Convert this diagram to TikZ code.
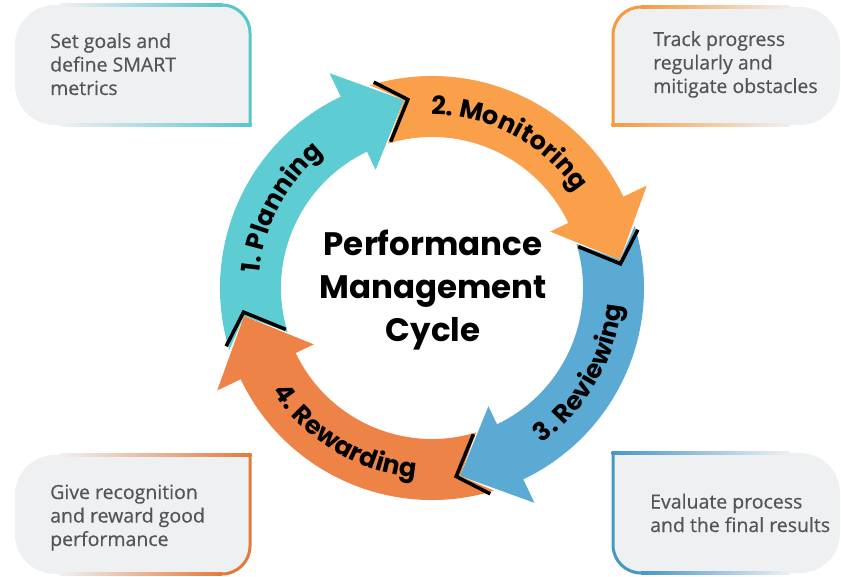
\documentclass[tikz,border=0pt]{standalone}
\usepackage{fontspec}
\setmainfont{Open Sans}
\newfontfamily\boxfont{Open Sans}[FakeBold=0.5]
\newfontfamily\popfont{Poppins}
\usetikzlibrary{decorations.text}
\definecolor{cPlan}{RGB}{94,204,211}
\definecolor{cMon}{RGB}{250,160,75}
\definecolor{cRev}{RGB}{91,170,212}
\definecolor{cRew}{RGB}{238,131,72}
\definecolor{boxgray}{RGB}{239,240,242}
\definecolor{txtgray}{RGB}{85,85,88}
\definecolor{bPlan}{RGB}{88,196,204}
\definecolor{bMon}{RGB}{244,155,62}
\definecolor{bRew}{RGB}{228,122,58}
\definecolor{bRev}{RGB}{70,150,198}
\newcommand\arclabfont{\popfont\bfseries\fontsize{25.5}{25.5}\selectfont}
\begin{document}
\begin{tikzpicture}[x=1pt,y=1pt,
  boxtext/.style={anchor=base west, align=left, inner sep=0pt, text=txtgray,
    font=\boxfont\fontsize{19.5}{23.5}\selectfont},
  arclab/.style={decorate, decoration={text along path, text align=center, text color=black, text={|\arclabfont|#1}}}]
\useasboundingbox (0,0) rectangle (841,576);
\fill[white] (0,0) rectangle (841,576);

% ---- boxes ----
% box 1 (top left)
\fill[boxgray] (250,451) -- (55,451) arc[start angle=270,end angle=180,radius=40] -- (15,531) arc[start angle=180,end angle=90,radius=40] -- (222,571) arc[start angle=90,end angle=0,radius=28] -- cycle;
\shade[left color=boxgray, right color=bPlan] (60,569.5) rectangle (222,572.5);
\shade[left color=boxgray, right color=bPlan] (60,449.5) rectangle (251.5,452.5);
\draw[bPlan, line width=3pt] (250,451) -- (250,543) arc[start angle=0,end angle=90,radius=28];
% box 2 (top right)
\fill[boxgray] (613,451) -- (613,541) arc[start angle=180,end angle=90,radius=28] -- (800,569) arc[start angle=90,end angle=0,radius=40] -- (840,491) arc[start angle=0,end angle=-90,radius=40] -- cycle;
\shade[left color=bMon, right color=boxgray] (641,567.5) rectangle (790,570.5);
\shade[left color=bMon, right color=boxgray] (611.5,449.5) rectangle (790,452.5);
\draw[bMon, line width=3pt] (613,451) -- (613,541) arc[start angle=180,end angle=90,radius=28];
% box 3 (bottom left)
\fill[boxgray] (250,121) -- (55,121) arc[start angle=90,end angle=180,radius=40] -- (15,42) arc[start angle=180,end angle=270,radius=40] -- (222,2) arc[start angle=270,end angle=360,radius=28] -- cycle;
\shade[left color=boxgray, right color=bRew] (60,119.5) rectangle (251.5,122.5);
\shade[left color=boxgray, right color=bRew] (60,0.5) rectangle (222,3.5);
\draw[bRew, line width=3pt] (250,121) -- (250,30) arc[start angle=0,end angle=-90,radius=28];
% box 4 (bottom right)
\fill[boxgray] (613,123) -- (800,123) arc[start angle=90,end angle=0,radius=40] -- (840,43) arc[start angle=0,end angle=-90,radius=40] -- (641,3) arc[start angle=270,end angle=180,radius=28] -- cycle;
\shade[left color=bRev, right color=boxgray] (611.5,121.5) rectangle (790,124.5);
\shade[left color=bRev, right color=boxgray] (641,1.5) rectangle (790,4.5);
\draw[bRev, line width=3pt] (613,123) -- (613,31) arc[start angle=180,end angle=270,radius=28];

\node[boxtext] (t1) at (50,481) {Set goals and\\define SMART\\metrics};
\node[boxtext] (t2) at (653,483) {Track progress\\regularly and\\mitigate obstacles};
\node[boxtext] (t3) at (50,30) {Give recognition\\and reward good\\performance};
\node[boxtext] (t4) at (650,44) {Evaluate process\\and the final results};

% ---- cycle ----
\begin{scope}[shift={(432,288)}]
\foreach \T/\col in {197/cPlan,107/cMon,17/cRev,-73/cRew}{
  \pgfmathsetmacro\B{\T-81.5}
  \pgfmathsetmacro\P{\T-98.5}
  \pgfmathsetmacro\N{\T-8.5}
  \fill[\col] (\T:212) arc[start angle=\T, end angle=\B, radius=212] -- (\B:238) -- (\P:190) -- (\B:131) -- (\B:151) arc[start angle=\B, end angle=\T, radius=151] -- (\N:190) -- cycle;
}
\foreach \T in {197,107,17,-73}{
  \pgfmathsetmacro\Ta{\T-1.2}
  \pgfmathsetmacro\Na{\T-9.7}
  \draw[black, line width=3.5pt, line join=miter] (\Ta:214) -- (\Na:190) -- (\Ta:152);
}
\path[arclab={1. Planning}] (212:173) arc[start angle=212, end angle=92, radius=173];
\path[arclab={2. Monitoring}] (122:173) arc[start angle=122, end angle=2, radius=173];
\path[arclab={3. Reviewing}] (-90:190) arc[start angle=-90, end angle=30, radius=190];
\path[arclab={4. Rewarding}] (179:190) arc[start angle=179, end angle=299, radius=190];
\end{scope}

\node[anchor=base, align=center, inner sep=0pt, font=\popfont\bfseries\fontsize{32.5}{43}\selectfont] (title) at (433,234) {Performance\\Management\\Cycle};
\end{tikzpicture}
\end{document}
